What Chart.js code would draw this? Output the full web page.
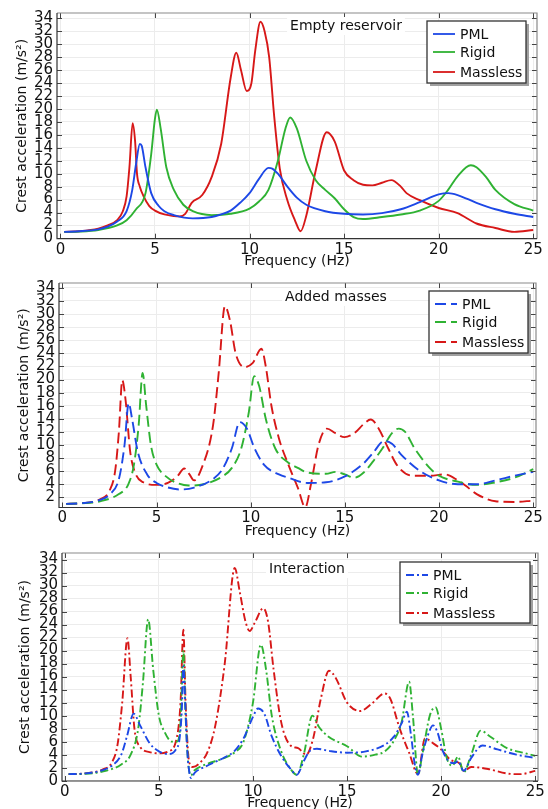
<!DOCTYPE html>
<html>
<head>
<meta charset="utf-8">
<script src="https://cdn.jsdelivr.net/npm/chart.js@4.4.1/dist/chart.umd.min.js"></script>
<style>
  html, body { margin: 0; padding: 0; background: #fff; width: 548px; height: 809px; overflow: hidden; }
  canvas { position: absolute; left: 0; }
</style>
</head>
<body>
<canvas id="emptyChart" width="548" height="270" style="top:0px"></canvas>
<canvas id="addedChart" width="548" height="270" style="top:270px"></canvas>
<canvas id="interChart" width="548" height="272" style="top:540px"></canvas>
<script>
'use strict';

// ---------------- data ----------------
var seriesNames  = ['PML', 'Rigid', 'Massless'];
var seriesColors = ['#1d48e6', '#2fb233', '#d71818'];
var xTicks = [0, 5, 10, 15, 20, 25];
var yTicksFull  = [0, 2, 4, 6, 8, 10, 12, 14, 16, 18, 20, 22, 24, 26, 28, 30, 32, 34];
var yTicksAdded = [2, 4, 6, 8, 10, 12, 14, 16, 18, 20, 22, 24, 26, 28, 30, 32, 34];

// Empty reservoir
var emptyPmlHz = [0.2,1,2,2.5,3,3.5,3.8,4,4.2,4.3,4.5,4.8,5.2,5.5,6,7,8,8.5,9,9.5,10,10.5,11,11.2,11.5,12,12.5,13,14,15,16,17,18,19,20,20.5,21,22,23,24,25];
var emptyPml   = [1.0,1.1,1.4,1.8,2.6,4.2,7.5,11.5,14.6,14.3,11,7,5,4.2,3.6,3.1,3.3,3.7,4.3,5.5,7,9.2,10.9,10.8,10,8,6.3,5.2,4.2,3.8,3.7,3.9,4.5,5.6,6.8,7.0,6.7,5.5,4.5,3.8,3.3];
var emptyRigidHz = [0.2,1,2,3,3.5,4,4.5,4.8,5.0,5.1,5.3,5.6,6,6.5,7,8,9,10,10.5,11,11.5,11.9,12.15,12.5,13,13.5,14,14.5,15,15.5,16,17,18,19,20,20.5,21,21.7,22,22.5,23,24,25];
var emptyRigid   = [1.0,1.05,1.3,2,2.8,4.5,7,13,18.5,19.9,17,11,7.5,5.2,4.2,3.6,3.8,4.6,5.7,7.5,12,17,18.7,17,12,9,7.5,6.2,4.5,3.3,3.0,3.3,3.7,4.3,5.8,7.5,9.6,11.3,11.0,9.5,7.5,5.3,4.3];
var emptyMasslessHz = [0.2,1,2,2.5,3,3.3,3.5,3.65,3.82,3.95,4.05,4.2,4.4,4.7,5,5.5,6,6.3,6.6,6.94,7.5,8,8.5,9,9.3,9.55,9.85,10.1,10.3,10.58,10.8,11.04,11.3,11.6,12,12.4,12.7,13,13.5,14.08,14.5,15,15.5,16,16.5,17,17.5,18,18.3,19,20,21,22,23,24,25];
var emptyMassless   = [1.0,1.1,1.5,2.0,2.8,4.2,6.5,11,17.8,15,10,8,6.5,5,4.3,3.7,3.45,3.4,3.8,5.5,6.7,9.5,14.6,24.8,28.7,26,22.8,24,29,33.5,32,28,19,10.8,5.9,2.8,1.1,3.5,10.5,16.4,15,10.5,9,8.3,8.2,8.6,9.0,8,7,5.9,4.7,3.9,2.3,1.6,1.0,1.3];

// Added masses
var addedPmlHz = [0.2,1,2,2.5,3,3.3,3.52,3.7,4,4.5,5,5.5,6.3,7,8,8.5,9,9.42,9.8,10.2,10.7,11.5,12,13,14,15,16,16.5,17.08,17.5,18,19,20,21,22,23,24,25];
var addedPml   = [1.0,1.1,1.6,2.4,4.8,10,16.4,14,9,5.5,4.2,3.6,3.2,3.5,4.8,6.3,9.5,13.5,12.5,9.5,7,5.5,5,4.2,4.3,5.2,7.2,8.8,10.6,10.2,8.5,6,4.6,4.0,4.0,4.6,5.3,5.9];
var addedRigidHz = [0.2,1,2,3,3.5,3.8,4.05,4.26,4.45,4.7,5,5.5,6,6.7,7.5,8.5,9,9.5,9.9,10.18,10.45,10.8,11.3,12,12.5,13,14,14.5,15,15.5,16,16.5,17,17.5,17.86,18.2,18.7,19.5,20,21,22,23,24,25];
var addedRigid   = [1.0,1.1,1.4,2.5,4.0,7,13,21,16,10,7,5.2,4.3,3.8,4.0,5.2,6.5,9.5,15,20.5,19,14,9.5,7.3,6.5,5.8,5.6,5.9,5.5,5.0,5.8,7.5,9.5,11.8,12.5,12,9.5,6.5,5.3,4.4,3.9,4.3,5.0,6.3];
var addedMasslessHz = [0.2,1,2,2.5,2.8,3.0,3.18,3.35,3.6,3.9,4.3,5,5.6,6.1,6.47,6.75,6.99,7.4,8,8.3,8.63,8.9,9.2,9.68,10.1,10.57,10.8,11.1,11.5,12,12.5,12.9,13.2,13.6,14.05,14.5,14.98,15.5,16,16.37,16.8,17.3,17.8,18.6,19.5,20.3,21,21.4,22,23,24,25];
var addedMassless   = [1.0,1.1,1.7,3,6,12,19.9,17,9,5.5,4.3,3.9,4.2,5.2,6.4,5.5,4.6,6.5,13,21,31.2,29,24,21.9,22.5,24.7,22,16,11,7,3.5,0.5,4,10,12.5,11.8,11.2,11.8,13.2,13.9,12.5,9.5,6.8,5.3,5.3,5.5,4.6,3.8,2.5,1.4,1.3,1.5];

// Interaction
var interPmlHz = [0.2,1,2,2.5,3,3.3,3.66,4,4.5,5,5.5,5.9,6.1,6.22,6.3,6.4,6.5,6.71,6.9,7.5,8.5,9,9.5,10,10.27,10.6,11,11.5,12,12.33,12.7,13,13.4,14,15,16,17,17.5,17.9,18.18,18.4,18.6,18.77,19,19.3,19.57,19.8,20.1,20.4,20.7,20.9,21.2,21.6,22.2,23,24,25];
var interPml   = [1.0,1.1,1.6,2.3,4,6.8,10.3,8.5,5.8,4.5,4.1,4.8,6.5,11,17.6,12,5,0.4,1.2,2.2,3.6,4.5,6.5,9.8,11.1,10.3,6.8,3.8,1.8,0.9,3,4.5,4.9,4.6,4.3,4.5,5.5,6.8,8.8,10.6,7,2.5,0.9,4,7,8.5,7.5,4.5,3,2.7,3.0,1.5,3.5,5.4,4.8,4.0,3.5];
var interRigidHz = [0.2,1,2,3,3.5,3.9,4.15,4.43,4.7,5,5.3,5.7,5.95,6.15,6.3,6.42,6.55,6.7,6.9,7.5,8.5,9,9.5,10,10.42,10.7,11,11.5,12,12.33,12.7,13.16,13.5,14,15,15.8,16.5,17,17.5,17.9,18.3,18.5,18.77,19,19.4,19.7,20,20.3,20.6,20.9,21.2,21.6,22.1,22.6,23.5,24.5,25];
var interRigid   = [1.0,1.05,1.4,2.5,4,8,15,24.8,17,10,7.5,6,6,9,20,10,3,0.8,1.6,2.5,3.5,4.3,6,12,20.9,17,10,4.5,1.8,0.9,4,10,8.3,6.8,5.3,3.7,4,4.5,6.2,9,15.2,10,0.9,4,10,11.3,8,3.5,2.3,3.7,1.3,4,7.7,6.8,5,4.2,3.8];
var interMasslessHz = [0.2,1,2,2.5,2.8,3.05,3.33,3.5,3.7,4,4.5,5,5.5,5.9,6.15,6.3,6.42,6.6,6.8,7.2,7.6,8,8.5,9.03,9.3,9.6,9.83,10.1,10.55,10.8,11.1,11.5,12,12.4,12.83,13.2,13.6,14.04,14.4,15,15.7,16.3,17,17.3,17.8,18.3,18.77,19.14,19.6,20,20.5,21,21.2,21.6,22.5,23.5,24.2,25];
var interMassless   = [1.0,1.1,1.7,2.8,5.5,12,21.9,16,8,5.2,4.4,4.2,4.5,6,12,23.2,12,3,2.1,2.8,4.5,8.5,18,32.7,29,24.5,23,24.3,26.5,24.5,17,9,5.4,5.0,4.0,6.5,12.5,16.9,15.8,12,10.7,11.8,13.4,12.6,8,4.3,1.0,6.5,5.7,4.8,3.2,2.6,1.5,2.1,1.8,1.1,1.0,1.5];

// ---------------- helpers ----------------
var FONT = '"DejaVu Sans", Verdana, sans-serif';
var TEXT = '#111';

function pts(hz, vals) {
    return hz.map(function (f, i) { return { x: f, y: vals[i] }; });
}

// frame, inward ticks, inner title and boxed legend
function panelPlugin(p) {
    return {
        id: 'panel',
        afterDraw: function (chart) {
            var ctx = chart.ctx, a = chart.chartArea;
            var xs = chart.scales.x, ys = chart.scales.y;
            ctx.save();

            // ticks pointing inward
            ctx.strokeStyle = '#444';
            ctx.lineWidth = 1;
            ctx.beginPath();
            p.yTicks.forEach(function (v) {
                var y = Math.round(ys.getPixelForValue(v)) + 0.5;
                ctx.moveTo(a.left, y); ctx.lineTo(a.left + 5, y);
                ctx.moveTo(a.right, y); ctx.lineTo(a.right - 5, y);
            });
            xTicks.forEach(function (v) {
                var x = Math.round(xs.getPixelForValue(v)) + 0.5;
                ctx.moveTo(x, a.bottom); ctx.lineTo(x, a.bottom - 5);
                ctx.moveTo(x, a.top); ctx.lineTo(x, a.top + 5);
            });
            ctx.stroke();

            // frame
            ctx.strokeStyle = '#8a8a8a';
            ctx.lineWidth = 1.2;
            ctx.beginPath();
            ctx.moveTo(a.left, a.top); ctx.lineTo(a.right, a.top); ctx.lineTo(a.right, a.bottom);
            ctx.stroke();
            ctx.strokeStyle = '#333';
            ctx.beginPath();
            ctx.moveTo(a.left, a.top); ctx.lineTo(a.left, a.bottom); ctx.lineTo(a.right, a.bottom);
            ctx.stroke();

            // inner title with white backing
            ctx.font = '14px ' + FONT;
            var tw = ctx.measureText(p.title).width;
            ctx.fillStyle = '#fff';
            ctx.fillRect(p.titleX - tw / 2 - 3, p.titleY - 9, tw + 6, 18);
            ctx.fillStyle = TEXT;
            ctx.textAlign = 'center';
            ctx.textBaseline = 'middle';
            ctx.fillText(p.title, p.titleX, p.titleY);

            // legend box
            var L = p.legend;
            ctx.fillStyle = '#a0a0a0';
            ctx.fillRect(L.x + 3, L.y + 3, L.w, L.h);
            ctx.fillStyle = '#fff';
            ctx.fillRect(L.x, L.y, L.w, L.h);
            ctx.strokeStyle = '#333';
            ctx.lineWidth = 1.3;
            ctx.strokeRect(L.x, L.y, L.w, L.h);
            var rows = [13, 31, 51];
            ctx.textAlign = 'left';
            ctx.font = '14px ' + FONT;
            seriesNames.forEach(function (name, i) {
                var y = L.y + rows[i];
                ctx.strokeStyle = seriesColors[i];
                ctx.lineWidth = 1.8;
                ctx.setLineDash(p.dash);
                ctx.beginPath();
                ctx.moveTo(L.x + 6, y); ctx.lineTo(L.x + 28, y);
                ctx.stroke();
                ctx.setLineDash([]);
                ctx.fillStyle = TEXT;
                ctx.fillText(name, L.x + 33, y + 1);
            });
            ctx.restore();
        }
    };
}

function makePanel(id, p) {
    var datasets = p.series.map(function (s, i) {
        return {
            label: seriesNames[i],
            data: pts(s[0], s[1]),
            borderColor: seriesColors[i],
            borderWidth: 1.9,
            borderDash: p.dash,
            pointRadius: 0,
            fill: false,
            cubicInterpolationMode: 'monotone'
        };
    });

    return new Chart(document.getElementById(id), {
        type: 'line',
        data: { datasets: datasets },
        plugins: [panelPlugin(p)],
        options: {
            responsive: false,
            animation: false,
            events: [],
            layout: { padding: { top: p.top, right: p.right, left: 0, bottom: 0 } },
            plugins: { legend: { display: false }, tooltip: { enabled: false } },
            scales: {
                x: {
                    type: 'linear',
                    min: p.xMin,
                    max: p.xMax,
                    afterBuildTicks: function (s) { s.ticks = xTicks.map(function (v) { return { value: v }; }); },
                    afterFit: function (s) { s.height = p.xHeight; },
                    grid: { color: '#ececec', drawTicks: false },
                    border: { display: false },
                    ticks: { autoSkip: false, padding: 2, color: TEXT, font: { family: FONT, size: 15 }, maxRotation: 0 },
                    title: { display: true, text: 'Frequency (Hz)', color: TEXT, padding: 0, font: { family: FONT, size: 14 } }
                },
                y: {
                    type: 'linear',
                    min: p.yMin,
                    max: p.yMax,
                    afterBuildTicks: function (s) { s.ticks = p.yTicks.map(function (v) { return { value: v }; }); },
                    afterFit: function (s) { s.width = p.yWidth; },
                    grid: { color: '#ececec', drawTicks: false },
                    border: { display: false },
                    ticks: { autoSkip: false, padding: 4, color: TEXT, font: { family: FONT, size: 15 } },
                    title: { display: true, text: 'Crest acceleration (m/s\u00b2)', color: TEXT, padding: { top: p.yTitlePad, bottom: 0 }, font: { family: FONT, size: 14 } }
                }
            }
        }
    });
}

makePanel('emptyChart', {
    title: 'Empty reservoir', titleX: 346, titleY: 26,
    legend: { x: 427, y: 21, w: 99, h: 62 },
    dash: [],
    series: [[emptyPmlHz, emptyPml], [emptyRigidHz, emptyRigid], [emptyMasslessHz, emptyMassless]],
    yTicks: yTicksFull, yMin: -0.05, yMax: 34.85, xMin: -0.18, xMax: 25.2,
    top: 11.5, right: 11, yWidth: 57, xHeight: 31.3, yTitlePad: 14
});

makePanel('addedChart', {
    title: 'Added masses', titleX: 336, titleY: 27,
    legend: { x: 429, y: 21, w: 99, h: 62 },
    dash: [11, 5],
    series: [[addedPmlHz, addedPml], [addedRigidHz, addedRigid], [addedMasslessHz, addedMassless]],
    yTicks: yTicksAdded, yMin: 0.45, yMax: 34.75, xMin: -0.18, xMax: 25.15,
    top: 12, right: 12, yWidth: 59, xHeight: 32.5, yTitlePad: 16
});

makePanel('interChart', {
    title: 'Interaction', titleX: 307, titleY: 29,
    legend: { x: 400, y: 22, w: 130, h: 61 },
    dash: [8, 3, 2, 3],
    series: [[interPmlHz, interPml], [interRigidHz, interRigid], [interMasslessHz, interMassless]],
    yTicks: yTicksFull, yMin: -0.05, yMax: 35.0, xMin: -0.15, xMax: 25.15,
    top: 12, right: 10, yWidth: 62, xHeight: 31, yTitlePad: 17
});
</script>
</body>
</html>
